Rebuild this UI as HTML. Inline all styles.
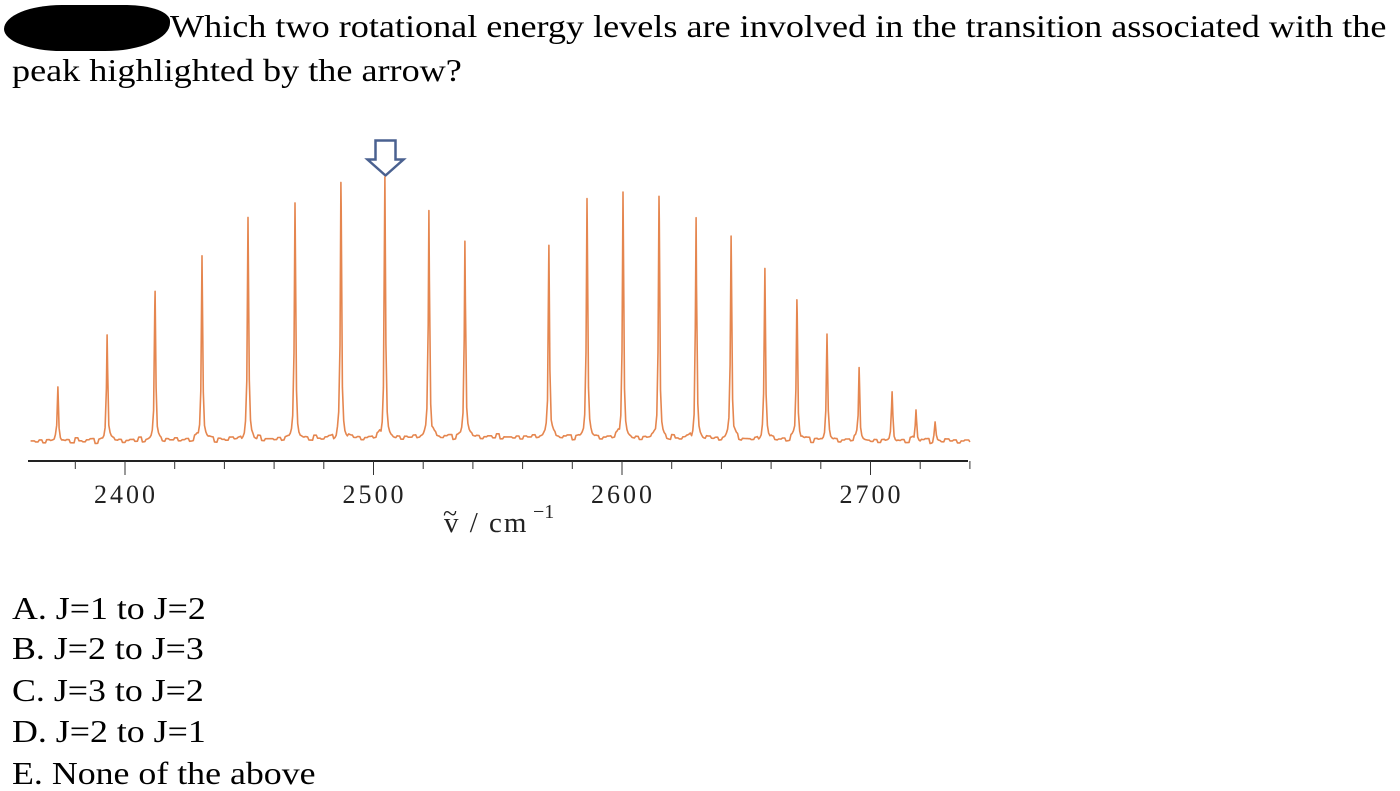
<!DOCTYPE html>
<html><head><meta charset="utf-8">
<style>
body{margin:0;width:1400px;height:784px;background:#fff;overflow:hidden;position:relative;font-family:"Liberation Serif",serif;color:#000}
.t{position:absolute;white-space:nowrap;font-size:32px;line-height:1;transform-origin:0 0}
.o{transform:scaleX(1.12)}
</style></head><body>
<div style="position:absolute;left:4px;top:5px;width:166px;height:46px;background:#000;border-radius:40% 30% 45% 40%/60% 40% 70% 55%"></div>
<div class="t" style="left:170px;top:10px;font-size:32px;transform:scaleX(1.13)">Which two rotational energy levels are involved in the transition associated with the</div>
<div class="t" style="left:12px;top:54px;font-size:32px;transform:scaleX(1.13)">peak highlighted by the arrow?</div>

<svg width="1400" height="560" style="position:absolute;left:0;top:0">
  <g id="arrow">
    <path d="M375.5,140.5 H395.5 V159.5 H403.5 L385.5,175.5 L367.5,159.5 H375.5 Z" fill="none" stroke="#4a6190" stroke-width="2.5" stroke-linejoin="miter"/>
  </g>
  <path id="spec" fill="none" stroke="#e5864f" stroke-width="1.6" stroke-linejoin="round"/>
  <line x1="28" y1="461" x2="968" y2="461" stroke="#222" stroke-width="2"/>
  <g id="ticks"></g>
  <text x="444" y="532" font-family="Liberation Serif" font-size="29" letter-spacing="2" fill="#222">v / cm</text>
  <text x="443" y="522" font-family="Liberation Serif" font-size="26" fill="#222">~</text>
  <text x="533" y="518" font-family="Liberation Serif" font-size="20" fill="#222">−1</text>
</svg>

<div class="t o" style="left:12px;top:592px">A. J=1 to J=2</div>
<div class="t o" style="left:12px;top:632px">B. J=2 to J=3</div>
<div class="t o" style="left:12px;top:674px">C. J=3 to J=2</div>
<div class="t o" style="left:12px;top:715px">D. J=2 to J=1</div>
<div class="t o" style="left:12px;top:757px">E. None of the above</div>

<script>
const peakWavenumbers=[2373.0,2392.8,2412.1,2431.0,2449.5,2468.4,2486.9,2504.6,2522.3,2536.8,2570.6,2585.9,2600.4,2614.9,2629.8,2643.9,2657.5,2670.4,2682.5,2695.4,2708.7,2718.3,2726.0];
const peakHeights=[52,107,150,185,222,234,256,261,229,197,194,240,246,242,220,204,170,140,104,75,47,31,18];
const tickValues=[2380,2400,2420,2440,2460,2480,2500,2520,2540,2560,2580,2600,2620,2640,2660,2680,2700,2720,2740];
const tickLabels=["2400","2500","2600","2700"];
const baselineWiggle=[0,-1,1,-2,1,0,2,-1,0,1,-2,3,0,-1,1,2,-3,1,0,-1,2,0,1,-2,0,1,-1,3,-2,0];

const X0=2400,PX0=125,PXPER=2.485,BASE=441;
const xs=v=>PX0+(v-X0)*PXPER;
const ys=v=>BASE-v;
const ns="http://www.w3.org/2000/svg";

const samples=[];
for(let v=2362;v<=2740;v+=0.5)samples.push(v);
peakWavenumbers.forEach(p=>samples.push(p));
samples.sort((a,b)=>a-b);
let d="";
samples.forEach(v=>{
  let y=0;
  peakHeights.forEach((h,i)=>{const dx=(v-peakWavenumbers[i])/0.3;y+=h/(1+dx*dx);});
  const env=Math.max(0,4-Math.abs(v-2550)/40);
  const k=Math.floor((v-2362)/1.6);
  y+=env+baselineWiggle[k%baselineWiggle.length];
  d+=(d?"L":"M")+xs(v).toFixed(1)+","+ys(y).toFixed(1);
});
document.getElementById('spec').setAttribute('d',d);

const g=document.getElementById('ticks');
tickValues.forEach(v=>{
  const major=v%100===0;
  const l=document.createElementNS(ns,'line');
  
  
  l.setAttribute('x1',xs(v));l.setAttribute('x2',xs(v));
  l.setAttribute('y1',461);l.setAttribute('y2',major?475:469);
  l.setAttribute('stroke','#333');l.setAttribute('stroke-width','1');
  g.appendChild(l);
});
tickLabels.forEach(s=>{
  const t=document.createElementNS(ns,'text');
  
  
  t.setAttribute('x',xs(+s)+1);t.setAttribute('y',503);
  t.setAttribute('text-anchor','middle');
  t.setAttribute('font-family','Liberation Serif');
  t.setAttribute('font-size','26');
  t.setAttribute('letter-spacing','3');
  t.setAttribute('fill','#222');
  t.textContent=s;
  g.appendChild(t);
});
</script>
</body></html>
